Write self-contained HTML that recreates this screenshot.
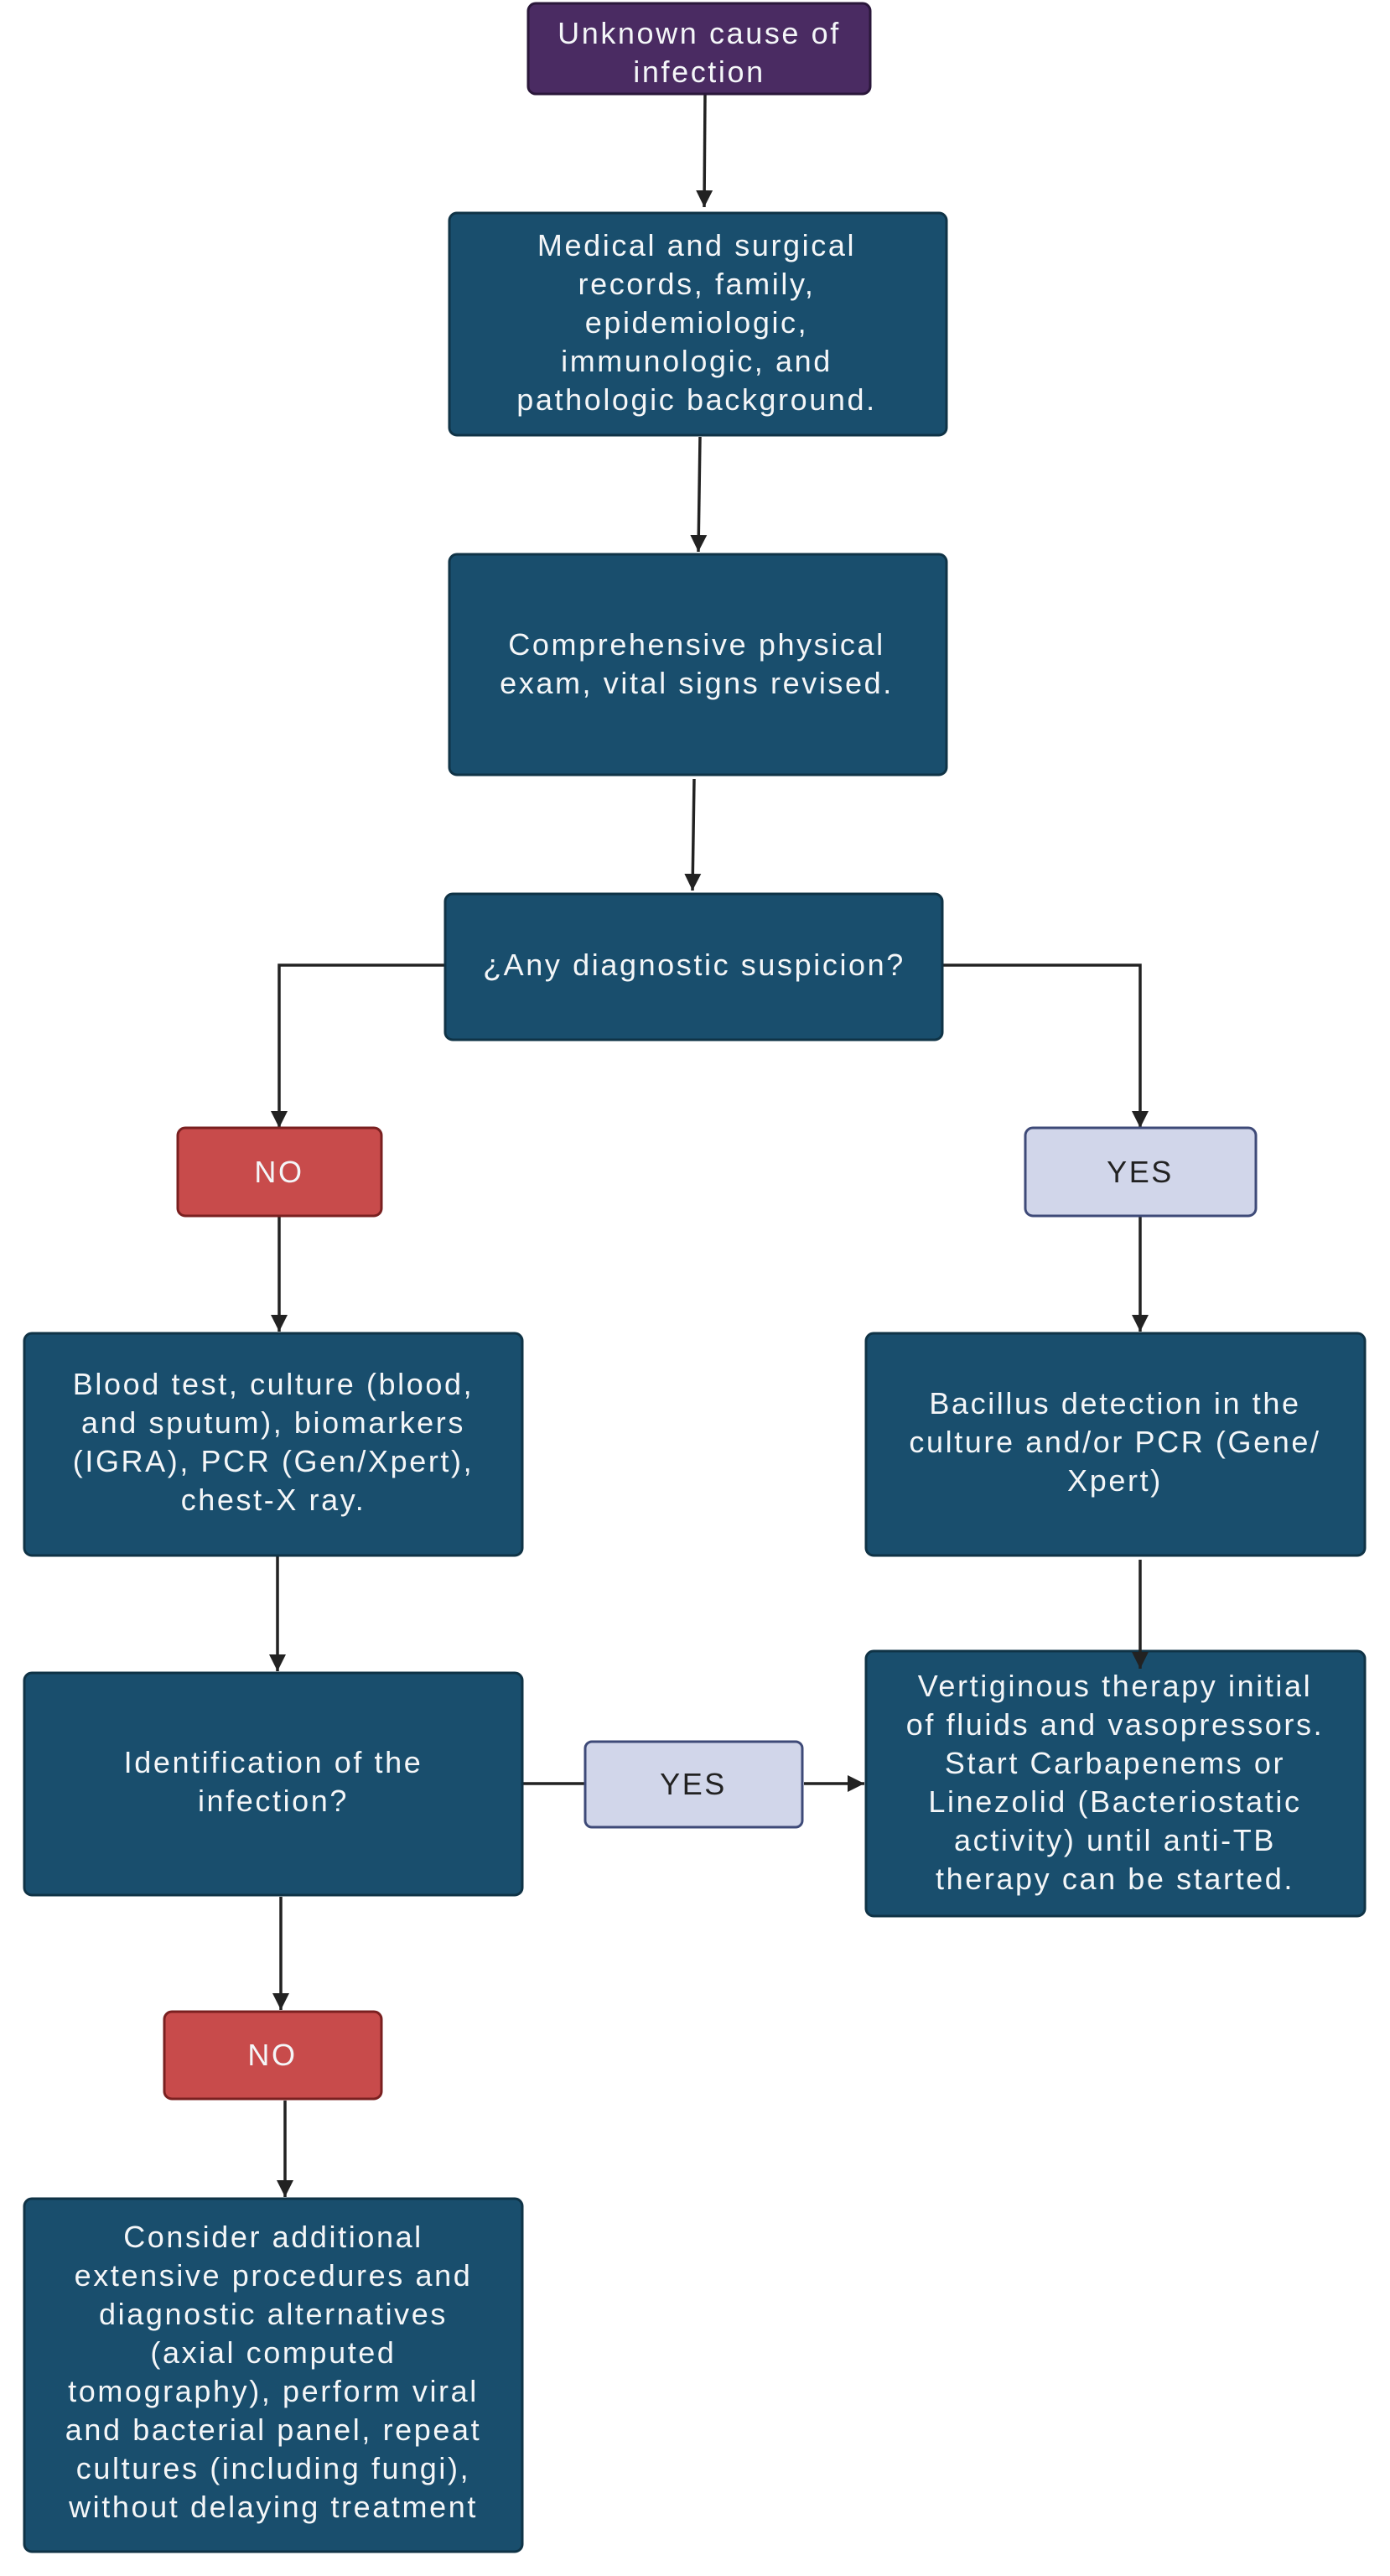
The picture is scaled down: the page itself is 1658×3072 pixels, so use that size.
<!DOCTYPE html>
<html><head><meta charset="utf-8"><style>
html,body{margin:0;padding:0;background:#fff;}
svg{display:block}
text{font-family:"Liberation Sans",Arial,sans-serif;font-size:36px;letter-spacing:2.6px;fill:#f4f6f8;text-anchor:middle}
.b{fill:#194e6d;stroke:#0f3346;stroke-width:3}
.l{stroke:#222;stroke-width:3.5;fill:none}
</style></head><body>
<svg width="1658" height="3072" viewBox="0 0 1658 3072" xmlns="http://www.w3.org/2000/svg">
<defs>
<marker id="h" viewBox="0 0 10 10" refX="10" refY="5" markerWidth="20" markerHeight="20" orient="auto" markerUnits="userSpaceOnUse"><path d="M0,0 L10,5 L0,10 z" fill="#222"/></marker></defs>

<!-- connectors -->
<path class="l" d="M841 113 L840 247" marker-end="url(#h)"/>
<path class="l" d="M835 521 L833 658" marker-end="url(#h)"/>
<path class="l" d="M828 929 L826 1062" marker-end="url(#h)"/>
<path class="l" d="M531 1151 L333 1151 L333 1345" marker-end="url(#h)"/>
<path class="l" d="M1124 1151 L1360 1151 L1360 1345" marker-end="url(#h)"/>
<path class="l" d="M333 1450 L333 1588" marker-end="url(#h)"/>
<path class="l" d="M1360 1450 L1360 1588" marker-end="url(#h)"/>
<path class="l" d="M331 1856 L331 1993" marker-end="url(#h)"/>
<path class="l" d="M623 2127 L698 2127"/>
<path class="l" d="M959 2127 L1031 2127" marker-end="url(#h)"/>
<path class="l" d="M335 2262 L335 2397" marker-end="url(#h)"/>
<path class="l" d="M340 2505 L340 2620" marker-end="url(#h)"/>

<!-- nodes -->
<rect x="630" y="4" width="408" height="108" rx="9" fill="#4a2b62" stroke="#2a173a" stroke-width="3"/>
<text x="834" y="52">Unknown cause of</text><text x="834" y="98">infection</text>

<rect class="b" x="536" y="254" width="593" height="265" rx="9"/>
<text x="831" y="305">Medical and surgical</text>
<text x="831" y="351">records, family,</text>
<text x="831" y="397">epidemiologic,</text>
<text x="831" y="443">immunologic, and</text>
<text x="831" y="489">pathologic background.</text>

<rect class="b" x="536" y="661" width="593" height="263" rx="9"/>
<text x="831" y="781">Comprehensive physical</text>
<text x="831" y="827">exam, vital signs revised.</text>

<rect class="b" x="531" y="1066" width="593" height="174" rx="9"/>
<text x="828" y="1163">¿Any diagnostic suspicion?</text>

<rect x="212" y="1345" width="243" height="105" rx="9" fill="#c84b4b" stroke="#7a2020" stroke-width="3"/>
<text x="333" y="1410">NO</text>
<rect x="1223" y="1345" width="275" height="105" rx="9" fill="#d1d6ea" stroke="#3e4a78" stroke-width="3"/>
<text x="1360" y="1410" style="fill:#222">YES</text>

<rect class="b" x="29" y="1590" width="594" height="265" rx="9"/>
<text x="326" y="1663">Blood test, culture (blood,</text>
<text x="326" y="1709">and sputum), biomarkers</text>
<text x="326" y="1755">(IGRA), PCR (Gen/Xpert),</text>
<text x="326" y="1801">chest-X ray.</text>

<rect class="b" x="1033" y="1590" width="595" height="265" rx="9"/>
<text x="1330" y="1686">Bacillus detection in the</text>
<text x="1330" y="1732">culture and/or PCR (Gene/</text>
<text x="1330" y="1778">Xpert)</text>

<rect class="b" x="29" y="1995" width="594" height="265" rx="9"/>
<text x="326" y="2114">Identification of the</text>
<text x="326" y="2160">infection?</text>

<rect x="698" y="2077" width="259" height="102" rx="8" fill="#d1d6ea" stroke="#3e4a78" stroke-width="3"/>
<text x="827" y="2140" style="fill:#222">YES</text>

<rect class="b" x="1033" y="1969" width="595" height="316" rx="9"/>
<text x="1330" y="2023">Vertiginous therapy initial</text>
<text x="1330" y="2069">of fluids and vasopressors.</text>
<text x="1330" y="2115">Start Carbapenems or</text>
<text x="1330" y="2161">Linezolid (Bacteriostatic</text>
<text x="1330" y="2207">activity) until anti-TB</text>
<text x="1330" y="2253">therapy can be started.</text>

<path class="l" d="M1360 1860 L1360 1990" marker-end="url(#h)"/>

<rect x="196" y="2399" width="259" height="104" rx="9" fill="#c84b4b" stroke="#7a2020" stroke-width="3"/>
<text x="325" y="2463">NO</text>

<rect class="b" x="29" y="2622" width="594" height="421" rx="9"/>
<text x="326" y="2680">Consider additional</text>
<text x="326" y="2726">extensive procedures and</text>
<text x="326" y="2772">diagnostic alternatives</text>
<text x="326" y="2818">(axial computed</text>
<text x="326" y="2864">tomography), perform viral</text>
<text x="326" y="2910">and bacterial panel, repeat</text>
<text x="326" y="2956">cultures (including fungi),</text>
<text x="326" y="3002">without delaying treatment</text>
</svg>
</body></html>
